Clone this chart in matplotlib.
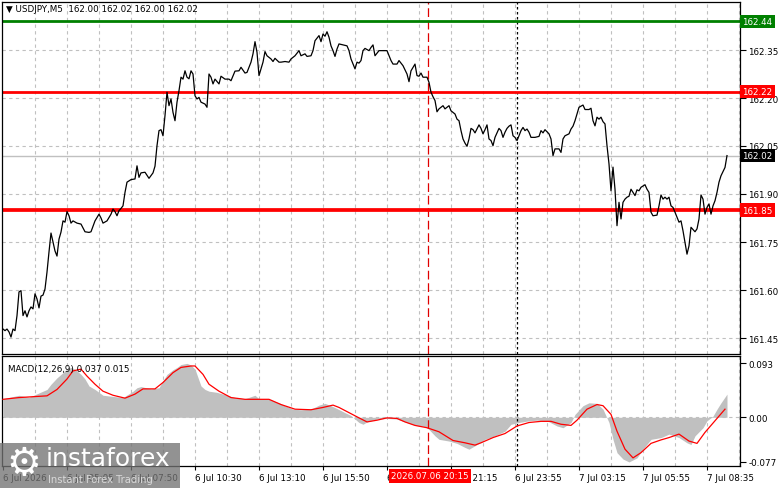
import matplotlib
matplotlib.use("Agg")
import matplotlib.pyplot as plt
import matplotlib.transforms as mtransforms
from matplotlib.patches import Rectangle

# price data (bar index, close), M5 bars
bars = [0, 1, 2, 3, 4, 5, 6, 7, 8, 9, 10, 11, 12, 13, 14, 15, 16, 17, 18, 19, 20, 21, 22, 23, 24, 25, 26, 27, 28, 29,
        30, 31, 32, 33, 34, 35, 37, 39, 41, 43, 44, 46, 48, 49, 50, 52, 54, 55, 56, 57, 58, 59, 60, 61, 62, 64, 66, 67, 68, 69,
        71, 73, 75, 76, 77, 78, 79, 80, 81, 82, 83, 84, 85, 86, 87, 88, 89, 90, 91, 92, 93, 94, 95, 96, 97, 98, 99, 101, 102, 103,
        104, 105, 106, 108, 109, 111, 113, 114, 116, 118, 119, 121, 122, 124, 125, 126, 127, 128, 129, 130, 131, 132, 134, 135, 136, 138, 139, 141, 143, 144,
        146, 148, 149, 151, 152, 154, 155, 156, 158, 159, 160, 161, 162, 163, 164, 165, 166, 167, 168, 170, 172, 173, 174, 176, 177, 178, 179, 180, 181, 183,
        184, 185, 186, 188, 192, 194, 195, 197, 198, 200, 202, 203, 204, 206, 207, 208, 209, 210, 212, 213, 214, 215, 216, 217, 218, 220, 221, 223, 224, 226,
        227, 228, 229, 230, 231, 232, 233, 234, 235, 236, 238, 239, 240, 241, 242, 243, 244, 245, 246, 248, 249, 250, 251, 252, 253, 254, 255, 256, 257, 258,
        259, 260, 261, 262, 263, 264, 266, 268, 269, 270, 271, 273, 274, 275, 276, 278, 279, 280, 281, 283, 284, 285, 286, 287, 288, 290, 291, 293, 294, 295,
        296, 297, 298, 299, 300, 301, 302, 303, 304, 305, 306, 307, 308, 309, 310, 311, 312, 313, 314, 315, 316, 317, 318, 319, 321, 322, 323, 324, 325, 327,
        328, 329, 330, 331, 332, 333, 334, 335, 336, 338, 339, 340, 341, 342, 343, 344, 346, 347, 348, 349, 350, 351, 352, 353, 354, 355, 356, 357, 358, 359,
        361, 362]
close = [161.478, 161.473, 161.478, 161.469, 161.453, 161.478, 161.473, 161.520, 161.594, 161.598, 161.520, 161.535, 161.516, 161.535, 161.547, 161.541, 161.588, 161.572, 161.544, 161.581, 161.584, 161.603, 161.656, 161.719, 161.778, 161.750, 161.722, 161.706, 161.759, 161.781,
         161.816, 161.812, 161.845, 161.832, 161.809, 161.816, 161.809, 161.806, 161.782, 161.780, 161.782, 161.816, 161.837, 161.825, 161.809, 161.816, 161.837, 161.853, 161.845, 161.832, 161.848, 161.855, 161.863, 161.905, 161.937, 161.945, 161.947, 161.988, 161.952, 161.966,
         161.968, 161.949, 161.966, 161.987, 162.051, 162.098, 162.101, 162.082, 162.145, 162.218, 162.176, 162.197, 162.155, 162.129, 162.187, 162.223, 162.265, 162.259, 162.285, 162.265, 162.260, 162.285, 162.275, 162.207, 162.197, 162.202, 162.187, 162.181, 162.171, 162.275,
         162.265, 162.244, 162.259, 162.244, 162.268, 162.259, 162.259, 162.254, 162.284, 162.285, 162.296, 162.278, 162.280, 162.312, 162.338, 162.376, 162.343, 162.270, 162.291, 162.312, 162.345, 162.332, 162.322, 162.314, 162.324, 162.312, 162.312, 162.314, 162.312, 162.322,
         162.332, 162.348, 162.332, 162.338, 162.330, 162.332, 162.348, 162.379, 162.395, 162.376, 162.400, 162.393, 162.407, 162.390, 162.363, 162.348, 162.330, 162.353, 162.369, 162.366, 162.363, 162.348, 162.322, 162.291, 162.312, 162.309, 162.317, 162.348, 162.355, 162.348,
         162.358, 162.366, 162.332, 162.348, 162.348, 162.317, 162.306, 162.306, 162.317, 162.301, 162.275, 162.251, 162.285, 162.306, 162.270, 162.268, 162.278, 162.265, 162.265, 162.249, 162.218, 162.204, 162.192, 162.157, 162.166, 162.176, 162.166, 162.176, 162.160, 162.150,
         162.134, 162.129, 162.098, 162.072, 162.059, 162.049, 162.072, 162.105, 162.101, 162.091, 162.116, 162.105, 162.088, 162.101, 162.116, 162.072, 162.067, 162.051, 162.077, 162.105, 162.098, 162.077, 162.093, 162.105, 162.112, 162.116, 162.082, 162.077, 162.067, 162.082,
         162.098, 162.108, 162.098, 162.103, 162.093, 162.077, 162.077, 162.080, 162.098, 162.091, 162.101, 162.088, 162.072, 162.020, 162.041, 162.041, 162.030, 162.072, 162.082, 162.088, 162.103, 162.112, 162.129, 162.150, 162.171, 162.178, 162.164, 162.164, 162.168, 162.129,
         162.113, 162.140, 162.134, 162.140, 162.126, 162.119, 162.051, 161.994, 161.910, 161.984, 161.915, 161.801, 161.874, 161.822, 161.874, 161.884, 161.890, 161.893, 161.915, 161.905, 161.895, 161.913, 161.910, 161.921, 161.929, 161.915, 161.905, 161.843, 161.832, 161.834,
         161.863, 161.897, 161.884, 161.890, 161.884, 161.890, 161.863, 161.858, 161.843, 161.812, 161.816, 161.785, 161.749, 161.712, 161.738, 161.796, 161.782, 161.791, 161.822, 161.897, 161.884, 161.837, 161.858, 161.869, 161.837, 161.863, 161.879, 161.905, 161.937, 161.957,
         161.983, 162.020]

# MACD histogram and signal line
hist_bars = [0, 8, 13, 22, 24, 27, 29, 32, 34, 36, 39, 41, 43, 46, 48, 50, 55, 60, 65, 67, 69, 74, 78, 80, 82, 85, 87, 89, 92, 94,
             96, 99, 101, 103, 107, 112, 116, 121, 126, 128, 133, 138, 141, 145, 149, 154, 158, 161, 164, 167, 171, 174, 178, 180, 182, 187, 192, 197, 201, 206,
             211, 213, 216, 218, 223, 227, 231, 233, 237, 241, 246, 251, 254, 258, 263, 267, 272, 277, 280, 284, 286, 290, 293, 297, 300, 303, 305, 307, 310, 313,
             317, 320, 324, 329, 333, 338, 342, 344, 346, 350, 352, 355, 357, 359, 362]
hist = [0.032, 0.038, 0.0345, 0.048, 0.057, 0.068, 0.074, 0.083, 0.086, 0.083, 0.074, 0.066, 0.054, 0.048, 0.043, 0.038, 0.036, 0.034, 0.045, 0.051,
        0.053, 0.049, 0.051, 0.063, 0.074, 0.082, 0.086, 0.091, 0.093, 0.090, 0.083, 0.054, 0.048, 0.045, 0.043, 0.038, 0.034, 0.032, 0.038, 0.032,
        0.031, 0.025, 0.020, 0.014, 0.013, 0.014, 0.021, 0.024, 0.020, 0.015, 0.008, 0.003, -0.009, -0.012, -0.008, -0.003, -0.002, -0.003, -0.008, -0.014,
        -0.016, -0.021, -0.032, -0.038, -0.041, -0.045, -0.052, -0.055, -0.047, -0.038, -0.032, -0.024, -0.012, -0.009, -0.006, -0.005, -0.006, -0.015, -0.018, -0.009,
        0.005, 0.020, 0.025, 0.024, 0.014, -0.009, -0.038, -0.061, -0.072, -0.077, -0.070, -0.055, -0.038, -0.035, -0.029, -0.035, -0.044, -0.047, -0.032, -0.018,
        -0.006, 0.002, 0.014, 0.025, 0.040]
sig_bars = [0, 8, 22, 27, 32, 35, 39, 42, 46, 50, 55, 61, 66, 70, 76, 80, 85, 89, 94, 96, 100, 103, 108, 114, 121, 127, 133, 139, 146, 154,
            160, 165, 168, 173, 178, 182, 187, 192, 197, 201, 206, 212, 218, 225, 231, 236, 239, 245, 251, 257, 263, 269, 274, 279, 284, 287, 292, 297, 300, 304,
            307, 311, 315, 319, 324, 329, 333, 338, 343, 347, 351, 356, 361]
signal = [0.031, 0.034, 0.037, 0.048, 0.066, 0.080, 0.083, 0.071, 0.057, 0.045, 0.038, 0.033, 0.040, 0.049, 0.049, 0.060, 0.077, 0.086, 0.0885, 0.0885,
          0.074, 0.057, 0.045, 0.034, 0.031, 0.031, 0.031, 0.022, 0.014, 0.013, 0.017, 0.021, 0.017, 0.008, -0.001, -0.008, -0.005, -0.001, -0.002, -0.008,
          -0.014, -0.018, -0.025, -0.040, -0.044, -0.048, -0.044, -0.035, -0.028, -0.015, -0.009, -0.007, -0.007, -0.012, -0.014, -0.005, 0.014, 0.022, 0.020, 0.005,
          -0.024, -0.055, -0.070, -0.061, -0.045, -0.039, -0.035, -0.029, -0.041, -0.045, -0.026, -0.006, 0.014]

tick_bars = [0, 32, 64, 96, 128, 160, 192, 224, 256, 288, 320, 352]
tick_labels = ["6 Jul 2026", "6 Jul 05:05", "6 Jul 07:50", "6 Jul 10:30", "6 Jul 13:10", "6 Jul 15:50",
               "6 Jul 18:30", "6 Jul 21:15", "6 Jul 23:55", "7 Jul 03:15", "7 Jul 05:55", "7 Jul 08:35"]
price_ticks = [161.45, 161.60, 161.75, 161.90, 162.05, 162.20, 162.35]
macd_ticks = [0.093, 0.0, -0.077]
macd_tick_labels = ["0.093", "0.00", "-0.077"]

level_green = 162.44
levels_red = [162.22, 161.85]
last_price = 162.02
crosshair_bar = 212.5
day_sep_bar = 257

W, H = 781, 489
fs = 6.3
plt.rcParams['font.family'] = ['DejaVu Sans']

fig = plt.figure(figsize=(W / 100, H / 100), dpi=100)
ax = fig.add_axes([2 / W, 1 - 355 / H, 738 / W, 352 / H])
ax2 = fig.add_axes([2 / W, 1 - 467 / H, 738 / W, 110 / H])

xlim = (-0.5, 368.5)
grid_kw = dict(color='#c0c0c0', lw=0.8, ls=(0, (3, 3)), zorder=0)

# main panel
ax.set_xlim(xlim)
ax.set_ylim(161.40, 162.50)
for b in range(16, 369, 16):
    ax.axvline(b, **grid_kw)
for p in price_ticks:
    ax.axhline(p, **grid_kw)
ax.axhline(last_price, color='#c0c0c0', lw=1, zorder=1)
ax.axhline(level_green, color='#008000', lw=2, zorder=2)
ax.axhline(levels_red[0], color='#ff0000', lw=2, zorder=2)
ax.axhline(levels_red[1], color='#ff0000', lw=2.7, zorder=2)
ax.axvline(day_sep_bar, color='black', lw=0.9, ls=(0, (2, 2)), zorder=1)
ax.axvline(crosshair_bar, color='#e00000', lw=0.9, ls=(0, (7, 3)), zorder=1)
ax.plot(bars, close, color='black', lw=0.9, zorder=3)

ax.yaxis.tick_right()
ax.set_yticks(price_ticks)
ax.set_yticklabels(["%.2f" % p for p in price_ticks])
ax.set_xticks([])
ax.tick_params(axis='y', length=4, width=0.8, pad=2, labelsize=fs)

blend = mtransforms.blended_transform_factory(ax.transAxes, ax.transData)
for val, col in [(level_green, '#008000'), (levels_red[0], '#ff0000'), (last_price, 'black'), (levels_red[1], '#ff0000')]:
    ax.text(1.003, val, "%.2f" % val, transform=blend, va='center', ha='left', color='white', fontsize=fs,
            bbox=dict(boxstyle='square,pad=0.25', fc=col, ec='none'), zorder=5, clip_on=False)

# MACD panel
ax2.set_xlim(xlim)
ax2.set_ylim(-0.084, 0.1057)
for b in range(16, 369, 16):
    ax2.axvline(b, **grid_kw)
ax2.axhline(0, **grid_kw)
ax2.fill_between(hist_bars, 0, hist, color='#c0c0c0', lw=0, zorder=1)
ax2.plot(sig_bars, signal, color='#ff0000', lw=0.9, zorder=3)
ax2.axvline(day_sep_bar, color='black', lw=0.9, ls=(0, (2, 2)), zorder=2)
ax2.axvline(crosshair_bar, color='#e00000', lw=0.9, ls=(0, (7, 3)), zorder=2)
ax2.yaxis.tick_right()
ax2.set_yticks(macd_ticks)
ax2.set_yticklabels(macd_tick_labels)
ax2.tick_params(axis='y', length=4, width=0.8, pad=2, labelsize=fs)
ax2.set_xticks(tick_bars)
ax2.set_xticklabels(tick_labels, ha='left')
ax2.tick_params(axis='x', length=3, width=0.8, pad=2, labelsize=fs)
ax2.text(0.008, 0.93, "MACD(12,26,9) 0.037 0.015", transform=ax2.transAxes, fontsize=fs, va='top', ha='left')

for a in (ax, ax2):
    for s in a.spines.values():
        s.set_linewidth(0.9)

fig.text(6 / W, 1 - 10 / H, "▼ USDJPY,M5  162.00 162.02 162.00 162.02", fontsize=fs, va='center', ha='left')

# crosshair time label
fig.text(391 / W, 1 - 477 / H, "2026.07.06 20:15", fontsize=fs, color='white', va='center', ha='left',
         bbox=dict(boxstyle='square,pad=0.25', fc='#ff0000', ec='none'), zorder=10)

# logo
fig.patches.append(Rectangle((0, 0), 180 / W, 45 / H, transform=fig.transFigure, fc='#737373', alpha=0.78, ec='none', zorder=8))
fig.text(24 / W, 1 - 464 / H, "⚙", fontsize=28, color='white', va='center', ha='center', zorder=9)
fig.text(46 / W, 1 - 459 / H, "instaforex", fontsize=18, color='white', va='center', ha='left', zorder=9)
fig.text(48 / W, 1 - 480 / H, "Instant Forex Trading", fontsize=7.2, color='#d8d8d8', va='center', ha='left', zorder=9)

fig.savefig("out.png", dpi=100)
